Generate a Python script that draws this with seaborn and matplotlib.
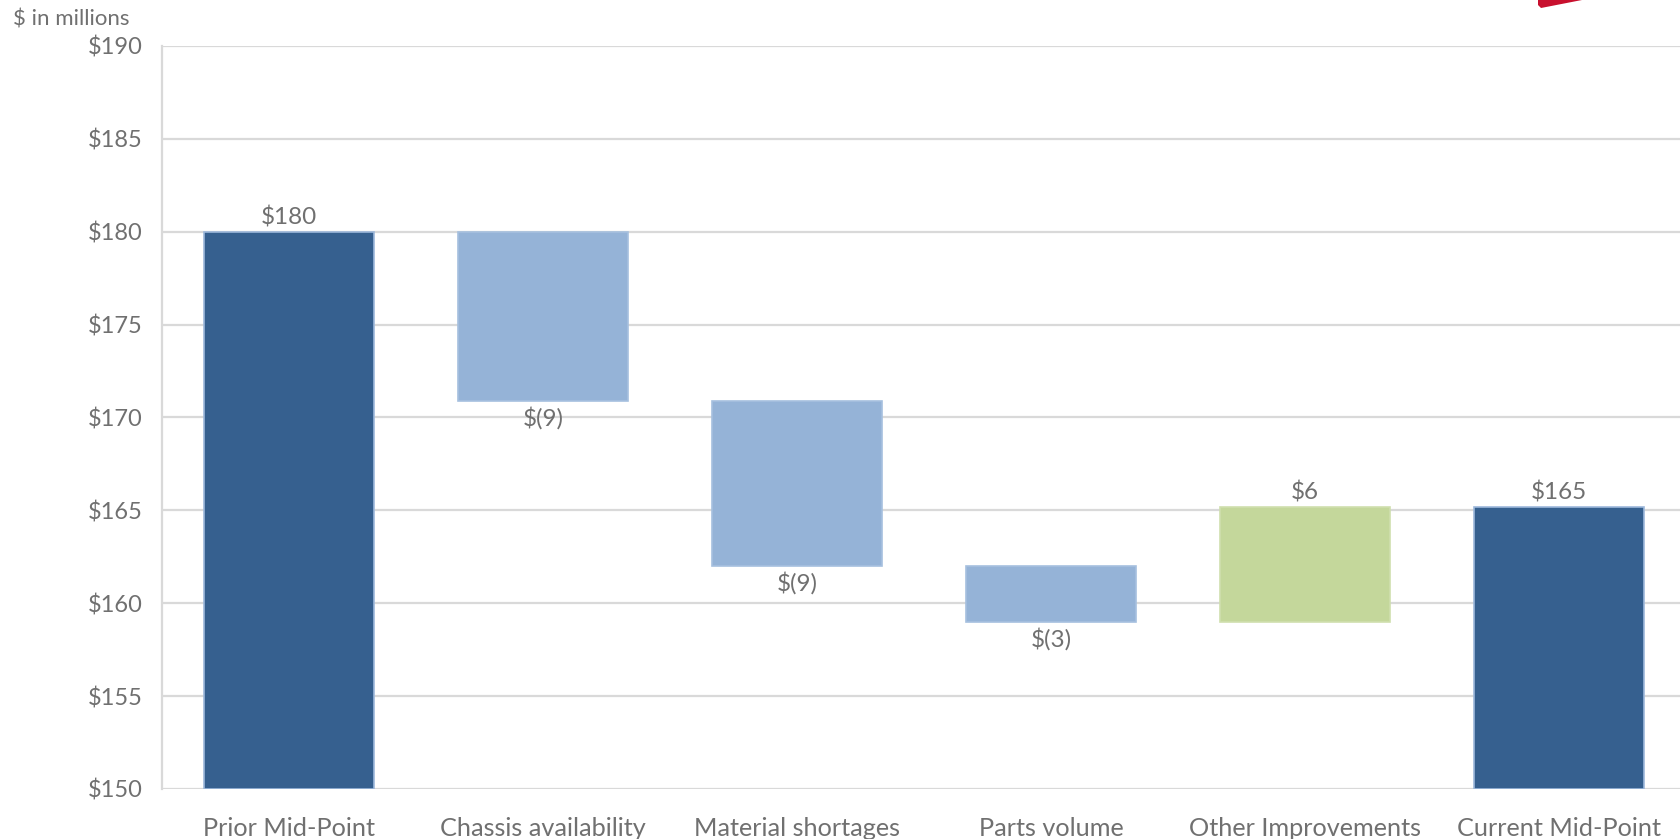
import matplotlib
matplotlib.use("Agg")
import matplotlib.pyplot as plt
from matplotlib.patches import Polygon
import seaborn as sns
import pandas as pd
import numpy as np

# ---- data ----
categories = ["Prior Mid-Point", "Chassis availability", "Material shortages",
              "Parts volume", "Other Improvements", "Current Mid-Point"]
start_total = 180.0
changes = [-9.1, -8.9, -3.0, 6.2]
end_total = 165.2
y_ticks = [150, 155, 160, 165, 170, 175, 180, 185, 190]
y_unit_label = "$ in millions"

# ---- build waterfall geometry from data ----
base = 150.0
bottoms, heights, kinds = [base], [start_total - base], ["total"]
running = start_total
for c in changes:
    new = running + c
    bottoms.append(min(running, new))
    heights.append(abs(c))
    kinds.append("dec" if c < 0 else "inc")
    running = new
bottoms.append(base)
heights.append(end_total - base)
kinds.append("total")
values = [start_total] + changes + [end_total]

df = pd.DataFrame({"category": categories, "height": heights})

colors = {"total": "#36608F", "dec": "#95B3D7", "inc": "#C4D79B"}
edges = {"total": "#9DB8DB", "dec": "#A6C0DF", "inc": "#CFDFAE"}
text_color = "#707070"
grid_color = "#D9D9D9"

sns.set_theme(style="white")
plt.rcParams["font.family"] = ["Lato", "DejaVu Sans"]

fig = plt.figure(figsize=(16.81, 8.39), dpi=100)
ax = fig.add_axes([162 / 1681, 50 / 839, (1686 - 162) / 1681, (789 - 46) / 839])

sns.barplot(data=df, x="category", y="height", order=categories,
            bottom=np.array(bottoms), width=0.67, ax=ax, zorder=3,
            color=colors["total"], saturation=1, linewidth=1.2)
for p, k in zip(ax.patches, kinds):
    p.set_facecolor(colors[k])
    p.set_edgecolor(edges[k])

ax.set_ylim(150, 190)
ax.set_xlim(-0.5, len(categories) - 0.5)
ax.set_yticks(y_ticks)
ax.set_yticklabels([f"${t}" for t in y_ticks])
ax.set_xlabel("")
ax.set_ylabel("")
ax.yaxis.grid(True, color=grid_color, linewidth=1.6, zorder=0)
ax.set_axisbelow(True)
for s in ["top", "right", "bottom"]:
    ax.spines[s].set_visible(False)
ax.spines["left"].set_color(grid_color)
ax.spines["left"].set_linewidth(1.6)
ax.tick_params(axis="y", length=0, pad=14, labelsize=17, labelcolor=text_color)
ax.tick_params(axis="x", length=0, pad=20, labelsize=18.2, labelcolor=text_color)

# data labels
for i, (v, k) in enumerate(zip(values, kinds)):
    top = bottoms[i] + heights[i]
    bot = bottoms[i]
    if k in ("total", "inc"):
        ax.annotate(f"${v:.0f}", (i, top), xytext=(0, 2.5), textcoords="offset points",
                    ha="center", va="bottom", fontsize=17.5, color=text_color)
    else:
        ax.annotate(f"$({abs(v):.0f})", (i, bot), xytext=(0, -4), textcoords="offset points",
                    ha="center", va="top", fontsize=17.5, color=text_color)

fig.text(13 / 1681, 1 - 19 / 839, y_unit_label, ha="left", va="center",
         fontsize=16, color=text_color)

# partial logo at top-right edge
W, H = 1681, 839
logo = Polygon([(1538 / W, 1.0), (1582 / W, 1.0), (1541 / W, 1 - 8 / H), (1538 / W, 1 - 5 / H)],
               closed=True, transform=fig.transFigure, facecolor="#C8102E", edgecolor="none")
fig.patches.append(logo)

fig.savefig("out.png", dpi=100)
